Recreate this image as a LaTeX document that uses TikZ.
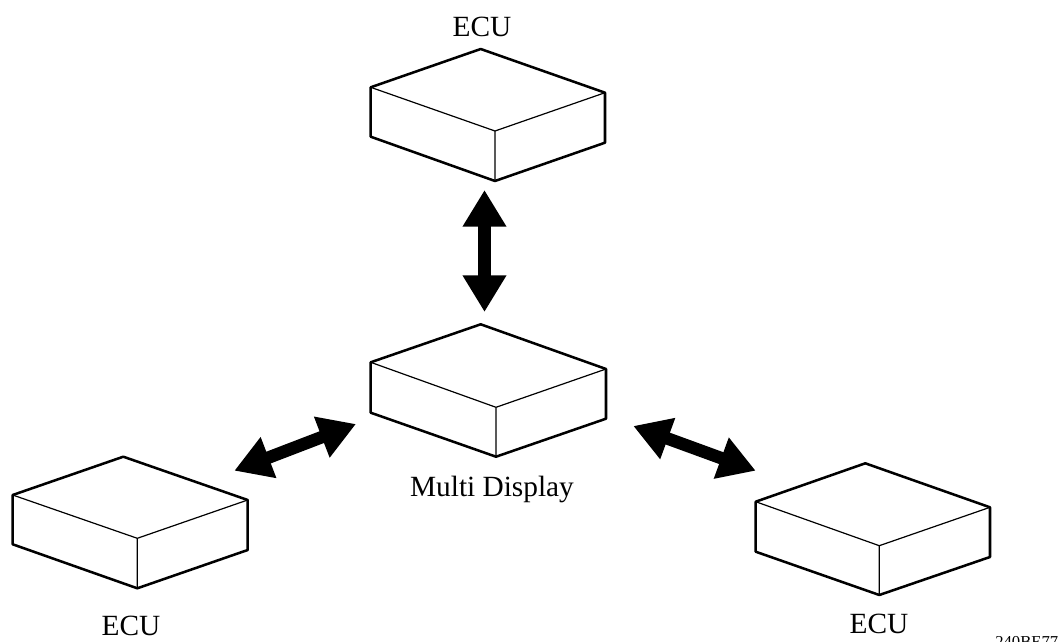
\documentclass[tikz,border=0pt]{standalone}
\usepackage{fontspec}
\setmainfont{Liberation Serif}
\usetikzlibrary{arrows.meta}

\tikzset{
  edgeout/.style={line width=1.9, line join=round},
  edgein/.style={line width=0.9},
  linkarrow/.style={line width=9.4, {Triangle[length=27.5pt,width=31pt]}-{Triangle[length=27.5pt,width=31pt]}},
  lbl/.style={anchor=base, inner sep=0.75pt, font=\fontsize{22}{26}\selectfont},
}

\begin{document}
\begin{tikzpicture}[x=0.75pt,y=0.75pt,yscale=-1,xscale=1]
\useasboundingbox (0,0) rectangle (1061,642); %set diagram size 1061 x 642

%Shape: Box top ECU
\draw [edgeout] (370.7,87.3) -- (480.7,49) -- (605,92.7) -- (605,142.7) -- (495,181) -- (370.7,136.7) -- cycle ;
\draw [edgein] (370.7,87.3) -- (495,131) -- (605,92.7) (495,131) -- (495,181) ;
%Shape: Box Multi Display
\draw [edgeout] (370.7,362.3) -- (480.7,324.3) -- (606,369) -- (606,418.7) -- (496,456.7) -- (370.7,412.7) -- cycle ;
\draw [edgein] (370.7,362.3) -- (496,407.3) -- (606,369) (496,407.3) -- (496,456.7) ;
%Shape: Box left ECU
\draw [edgeout] (12.7,495) -- (123.3,456.7) -- (247.7,500) -- (247.7,550) -- (137.3,588.3) -- (12.7,544.3) -- cycle ;
\draw [edgein] (12.7,495) -- (137.3,538.3) -- (247.7,500) (137.3,538.3) -- (137.3,588.3) ;
%Shape: Box right ECU
\draw [edgeout] (755.7,501.7) -- (865.3,463.3) -- (990,507.3) -- (990,557) -- (879.3,595) -- (755.7,551.7) -- cycle ;
\draw [edgein] (755.7,501.7) -- (879.3,545.7) -- (990,507.3) (879.3,545.7) -- (879.3,595) ;

% Arrow ends
\coordinate (topA) at (484.5,190) ;
\coordinate (topB) at (484.5,312) ;
\coordinate (leftA) at (234.3,470.7) ;
\coordinate (leftB) at (356,424) ;
\coordinate (rightA) at (633.3,426) ;
\coordinate (rightB) at (755.7,470.7) ;

%Double Arrows
\draw [linkarrow] (topA) -- (topB) ;
\draw [linkarrow] (leftA) -- (leftB) ;
\draw [linkarrow] (rightA) -- (rightB) ;

% Text Node
\node [lbl] (ecutop) at (482,36.7) {ECU};
% Text Node
\node [lbl] (display) at (492,496) {Multi Display};
% Text Node
\node [lbl] (eculeft) at (131,635) {ECU};
% Text Node
\node [lbl] (ecuright) at (879,633) {ECU};
% Text Node
\node [anchor=north west, inner sep=0pt, font=\fontsize{12.5}{14}\selectfont] (code) at (995,636.5) {240BE77};

\end{tikzpicture}
\end{document}
